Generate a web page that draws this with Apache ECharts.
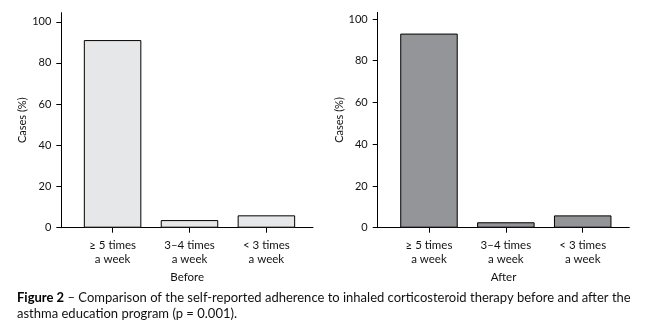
<!DOCTYPE html>
<html><head><meta charset="utf-8">
<script src="https://cdn.jsdelivr.net/npm/echarts@6/dist/echarts.min.js"></script>
<style>html,body{margin:0;padding:0;background:#fff}#c{width:664px;height:335px}</style>
</head><body><div id="c"></div>
<script>
const categories = ['≥ 5 times\na week', '3–4 times\na week', '< 3 times\na week'];
const beforeValues = [91.1, 3.7, 6.0];
const afterValues = [93.0, 2.6, 5.9];
const yTicks = [0, 20, 40, 60, 80, 100];
const panelNames = ['Before', 'After'];
const yAxisTitle = 'Cases (%)';
const captionBold = 'Figure 2';
const captionLine1 = ' – Comparison of the self-reported adherence to inhaled corticosteroid therapy before and after the';
const captionLine2 = 'asthma education program (p = 0.001).';

const FONT = 'Lato';
const chart = echarts.init(document.getElementById('c'), null, {renderer: 'canvas'});

function xAxisFor(i, name) {
  return {
    type: 'value', gridIndex: i, min: -0.667, max: 2.606,
    name: name, nameLocation: 'middle', nameGap: 44,
    nameTextStyle: {fontFamily: FONT, fontSize: 11.5, color: '#111'},
    axisLine: {show: true, onZero: false, lineStyle: {color: '#000', width: 1}},
    axisTick: {show: true, length: 5, lineStyle: {color: '#000'}, customValues: [0, 1, 2]},
    axisLabel: {show: true, customValues: [0, 1, 2], margin: 11, fontFamily: FONT, fontSize: 11.5, color: '#111', lineHeight: 14,
      formatter: v => categories[Math.round(v)]},
    splitLine: {show: false}
  };
}
function yAxisFor(i, max) {
  return {
    type: 'value', gridIndex: i, min: 0, max: max,
    name: yAxisTitle, nameLocation: 'middle', nameGap: 33, nameRotate: 90,
    nameTextStyle: {fontFamily: FONT, fontSize: 11, color: '#111'},
    axisLine: {show: true, onZero: false, lineStyle: {color: '#000', width: 1}},
    axisTick: {show: true, length: 5, lineStyle: {color: '#000'}, customValues: yTicks},
    axisLabel: {show: true, customValues: yTicks, margin: 10, fontFamily: FONT, fontSize: 11, color: '#111'},
    splitLine: {show: false}
  };
}

chart.setOption({
  animation: false,
  grid: [
    {left: 61.3, top: 12.7, width: 251.7, height: 215},
    {left: 377.7, top: 12.3, width: 251.6, height: 215.4}
  ],
  xAxis: [xAxisFor(0, panelNames[0]), xAxisFor(1, panelNames[1])],
  yAxis: [yAxisFor(0, 104.4), yAxisFor(1, 103.2)],
  series: [
    {type: 'bar', xAxisIndex: 0, yAxisIndex: 0, barWidth: 57.5,
     data: beforeValues.map((v, i) => [i, v]),
     itemStyle: {color: '#e6e7e8', borderColor: '#000', borderWidth: 1}},
    {type: 'bar', xAxisIndex: 1, yAxisIndex: 1, barWidth: 57.5,
     data: afterValues.map((v, i) => [i, v]),
     itemStyle: {color: '#939598', borderColor: '#000', borderWidth: 1}}
  ],
  graphic: [
    {type: 'text', left: 17, top: 291,
     style: {text: '{b|' + captionBold + '}' + captionLine1, fontFamily: FONT, fontSize: 13, fill: '#111',
       rich: {b: {fontWeight: 'bold', fontFamily: FONT, fontSize: 13, fill: '#000'}}}},
    {type: 'text', left: 17, top: 307,
     style: {text: captionLine2, fontFamily: FONT, fontSize: 13, fill: '#111'}}
  ]
});
</script></body></html>
